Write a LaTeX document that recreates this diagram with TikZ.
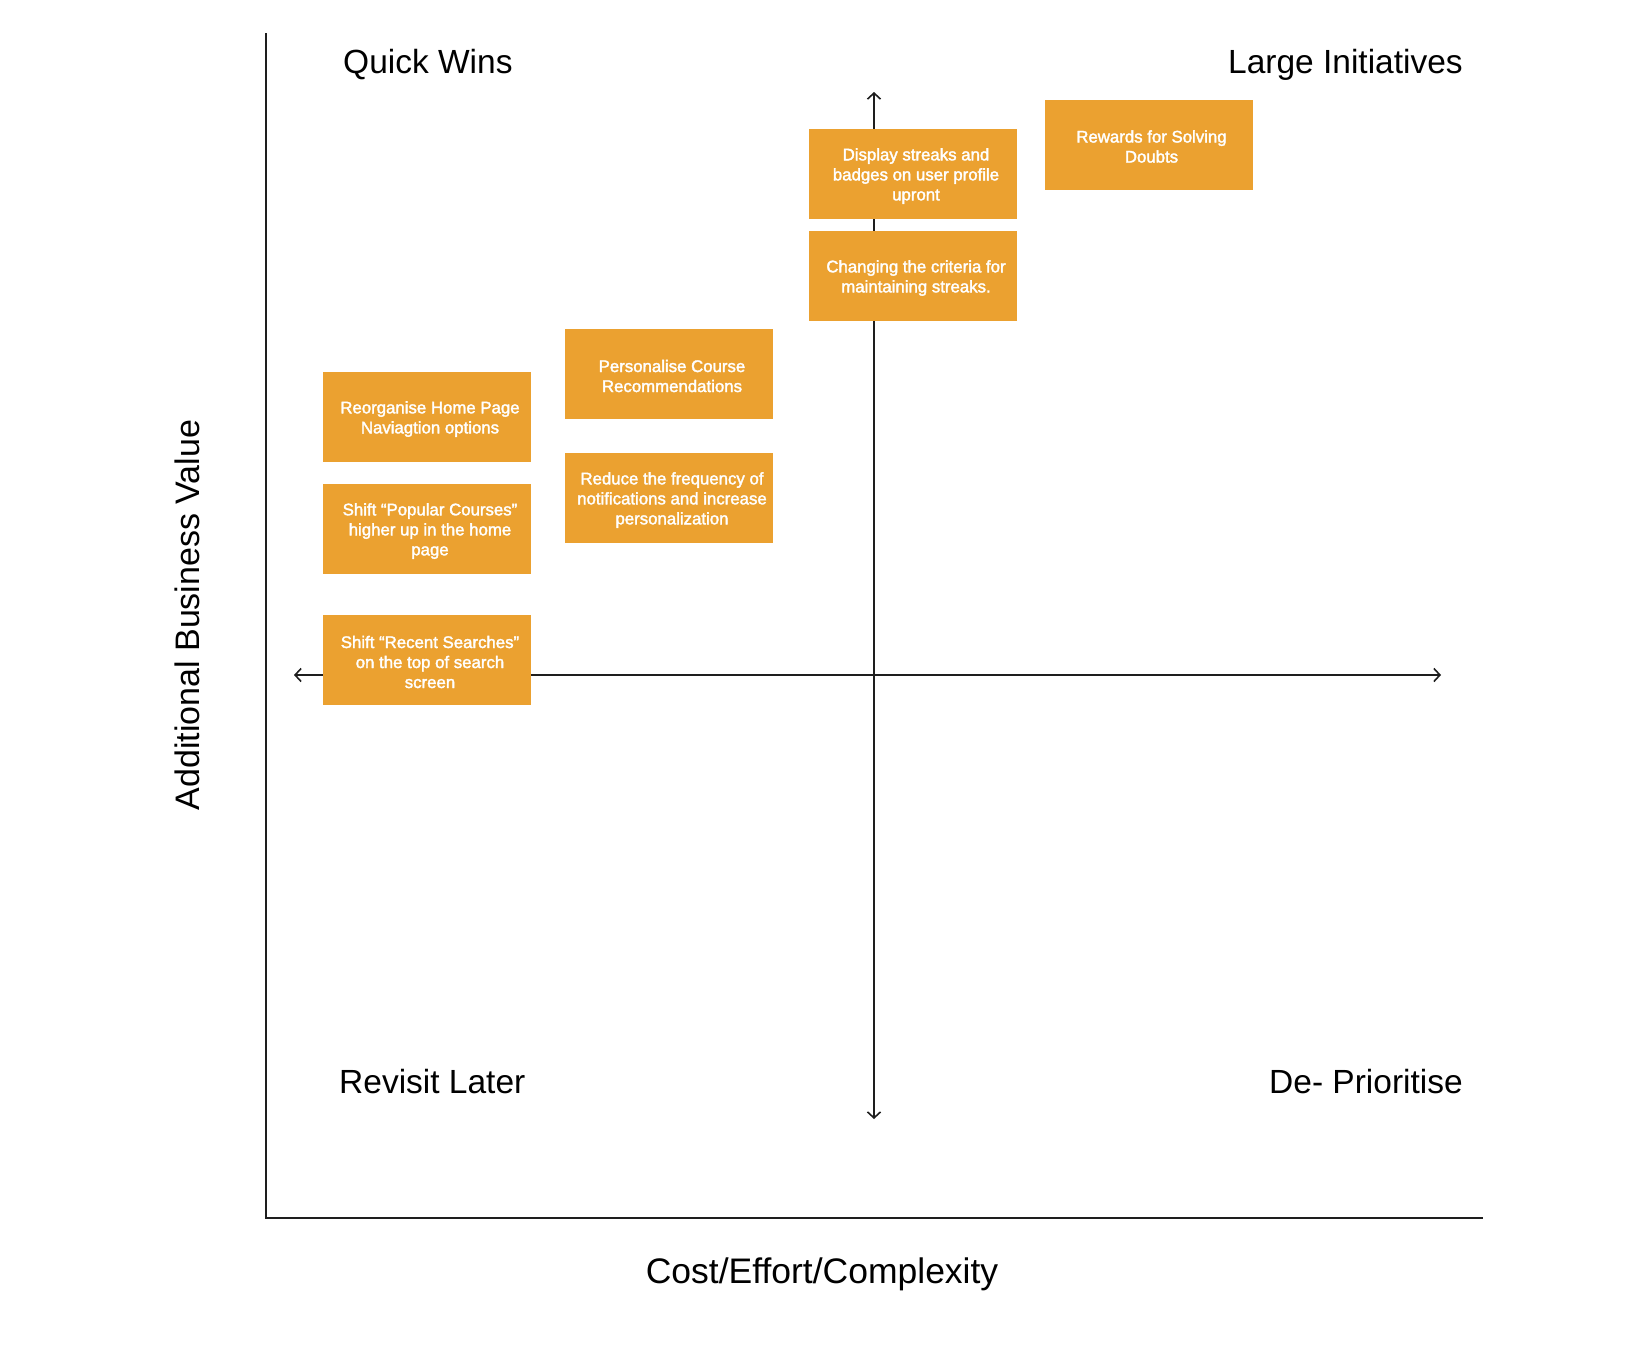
\documentclass[tikz,border=0pt]{standalone}
\usepackage{fontspec}
\setmainfont{Liberation Sans}
\newfontfamily\boxfont[FakeBold=2]{Liberation Sans}
\usetikzlibrary{arrows.meta}
\definecolor{boxorange}{RGB}{235,161,48}
\definecolor{axisgray}{RGB}{30,30,30}
\tikzset{
  itembox/.style={fill=boxorange, draw=none, minimum width=208pt, minimum height=90pt,
    inner sep=0pt},
  boxtext/.style={inner sep=0pt, align=center, text=white, xshift=3pt, yshift=-2pt,
    font=\boxfont\fontsize{16.8}{20}\selectfont},
  quadlabel/.style={inner sep=0pt, font=\fontsize{33.5}{40}\selectfont, text=black},
  axistitle/.style={inner sep=0pt, font=\fontsize{35.5}{40}\selectfont, text=black},
  ytitlestyle/.style={inner sep=0pt, font=\fontsize{34}{40}\selectfont, text=black},
  frameline/.style={draw=axisgray, line width=1.6pt},
  axisarrow/.style={draw=axisgray, line width=1.6pt, {Straight Barb[length=6pt,width=13pt]}-{Straight Barb[length=6pt,width=13pt]}}
}
\begin{document}
\begin{tikzpicture}[x=1pt,y=-1pt]
\useasboundingbox (0,0) rectangle (1644,1350);
% frame axes
\coordinate (ftop) at (266,33);
\coordinate (forig) at (266,1218);
\coordinate (fright) at (1483,1218);
\draw[frameline] (ftop) -- (forig) -- (fright);
% quadrant axes
\coordinate (hl) at (294,675);
\coordinate (hr) at (1441,675);
\coordinate (vt) at (874,92);
\coordinate (vb) at (874,1119);
\draw[axisarrow] (hl) -- (hr);
\draw[axisarrow] (vb) -- (vt);
% boxes
\node[itembox, label={[boxtext]center:{Display streaks and\\badges on user profile\\upront}}] (display) at (913,174) {};
\node[itembox, label={[boxtext]center:{Rewards for Solving\\Doubts}}] (rewards) at (1148.5,144.5) {};
\node[itembox, label={[boxtext]center:{Changing the criteria for\\maintaining streaks.}}] (changing) at (913,276) {};
\node[itembox, label={[boxtext]center:{Personalise Course\\Recommendations}}] (personalise) at (669,374) {};
\node[itembox, label={[boxtext]center:{Reorganise Home Page\\Naviagtion options}}] (reorganise) at (427,417) {};
\node[itembox, label={[boxtext]center:{Reduce the frequency of\\notifications and increase\\personalization}}] (reduce) at (669,498) {};
\node[itembox, label={[boxtext]center:{Shift “Popular Courses”\\higher up in the home\\page}}] (popular) at (427,529) {};
\node[itembox, label={[boxtext]center:{Shift “Recent Searches”\\on the top of search\\screen}}] (recent) at (427,660) {};
% quadrant labels
\node[quadlabel, anchor=base west] (qw) at (343,73) {Quick Wins};
\node[quadlabel, anchor=base east] (li) at (1463,73) {Large Initiatives};
\node[quadlabel, anchor=base west] (rl) at (339,1093) {Revisit Later};
\node[quadlabel, anchor=base east] (dp) at (1463,1093) {De- Prioritise};
% axis titles
\node[axistitle, anchor=base] (xtitle) at (822,1283) {Cost/Effort/Complexity};
\node[ytitlestyle, anchor=base, rotate=90] (ytitle) at (199,615) {Additional Business Value};
\end{tikzpicture}
\end{document}
